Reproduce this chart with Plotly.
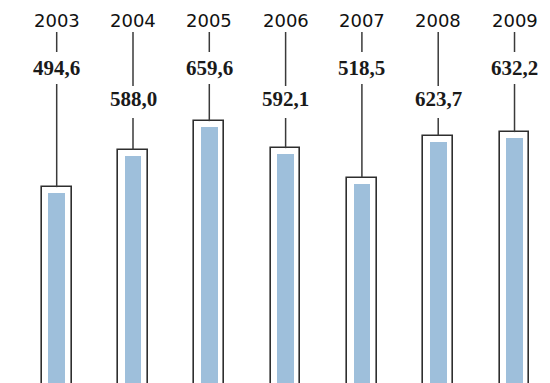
import plotly.graph_objects as go

years = ["2003", "2004", "2005", "2006", "2007", "2008", "2009"]
values = [494.6, 588.0, 659.6, 592.1, 518.5, 623.7, 632.2]
labels = ["494,6", "588,0", "659,6", "592,1", "518,5", "623,7", "632,2"]

W, H = 550, 383
UPP = 2.5           # value units per pixel
Y0 = 5.0            # value at bottom edge
YMAX = Y0 + H * UPP

def pv(p):
    """pixel from top -> value"""
    return YMAX - p * UPP

xs = list(range(len(years)))
fig = go.Figure()

# outline bars
fig.add_trace(go.Bar(x=xs, y=values, width=0.39,
                     marker=dict(color="white", line=dict(color="#2e2e2e", width=1.6)),
                     hoverinfo="skip"))
# inner blue bars
inner_gap = 15
fig.add_trace(go.Bar(x=xs, y=[v - inner_gap for v in values], width=0.22,
                     marker=dict(color="#9ebfdb", line=dict(width=0)),
                     hoverinfo="skip"))

# connector lines
lx, ly = [], []
for i, v in enumerate(values):
    high = (i % 2 == 0)
    if high:
        seg = [(32, 52), (84, None)]
    else:
        seg = [(32, 86), (118, None)]
    lx += [i, i, None]
    ly += [pv(seg[0][0]), pv(seg[0][1]), None]
    lx += [i, i, None]
    ly += [pv(seg[1][0]), v, None]
fig.add_trace(go.Scatter(x=lx, y=ly, mode="lines",
                         line=dict(color="#3a3a3a", width=1.5),
                         hoverinfo="skip"))

for i, (yr, lab) in enumerate(zip(years, labels)):
    fig.add_annotation(x=i, y=pv(20), text=yr, showarrow=False,
                       font=dict(family="DejaVu Sans", size=18, color="#111111"),
                       xanchor="center", yanchor="middle")
    ly_ = 68 if i % 2 == 0 else 99
    fig.add_annotation(x=i, y=pv(ly_), text="<b>" + lab + "</b>", showarrow=False,
                       font=dict(family="Liberation Serif", size=21, color="#1a1a1a"),
                       xanchor="center", yanchor="middle")

fig.update_layout(
    width=W, height=H, margin=dict(l=0, r=0, t=0, b=0),
    paper_bgcolor="white", plot_bgcolor="white",
    barmode="overlay", showlegend=False, bargap=0,
    xaxis=dict(range=[-0.743, 6.465], visible=False),
    yaxis=dict(range=[Y0, YMAX], visible=False),
)
fig.write_html("out.html")
